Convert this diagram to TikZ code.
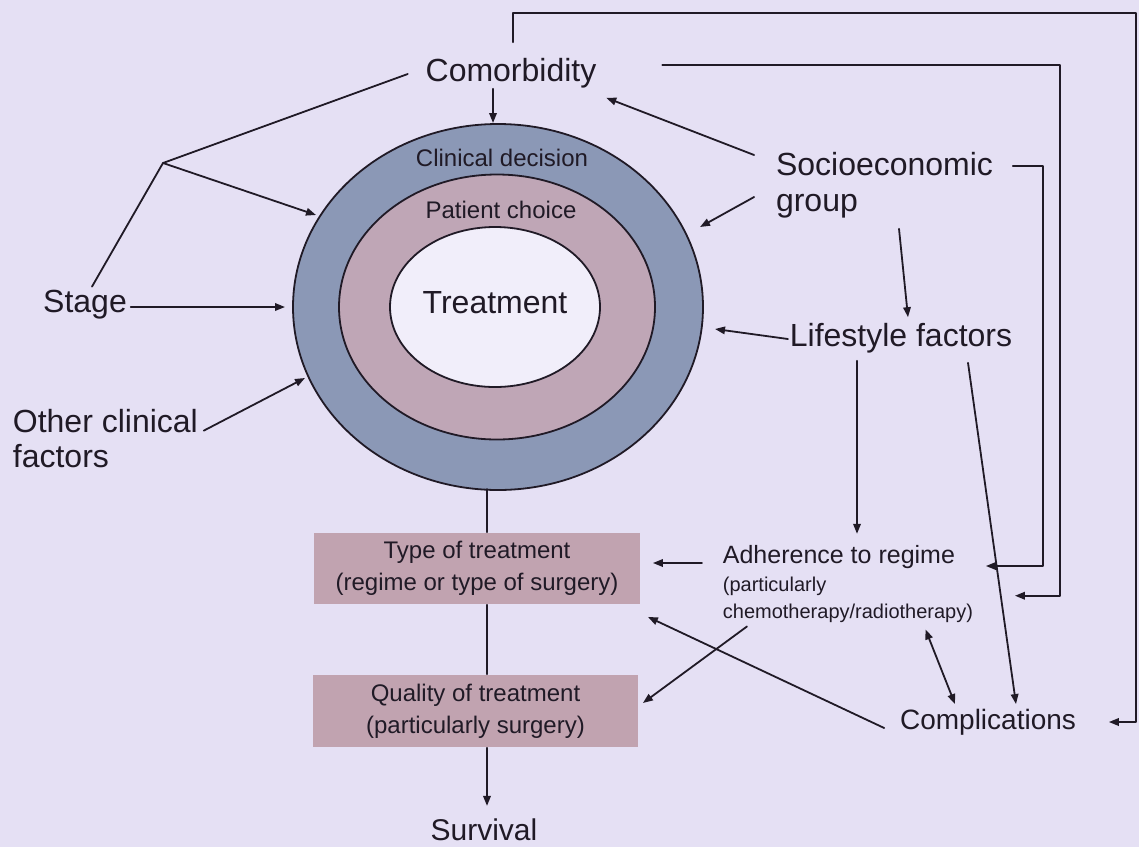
\documentclass[tikz,border=0pt]{standalone}
\usepackage{fontspec}
\setmainfont{Liberation Sans}
\usetikzlibrary{arrows.meta,shapes.geometric}

\definecolor{bglav}{RGB}{229,224,244}
\definecolor{inkc}{RGB}{32,26,38}
\definecolor{ringblue}{RGB}{139,152,182}
\definecolor{ringpink}{RGB}{191,166,182}
\definecolor{ringwhite}{RGB}{241,238,250}
\definecolor{boxc}{RGB}{193,163,176}

\begin{document}
\begin{tikzpicture}[x=1pt, y=-1pt, line width=1.8pt, line cap=round, line join=round,
  arr/.style={draw=inkc, -{Triangle[length=10pt,width=7.5pt]}},
  link/.style={draw=inkc},
  lbl/.style={inner sep=0pt, text=inkc, font=\fontsize{32}{36}\selectfont},
  ring/.style={ellipse, draw=inkc, inner sep=0pt},
  stepbox/.style={rectangle, fill=boxc, inner sep=0pt, minimum width=326pt, minimum height=71pt,
    align=center, text=inkc, font=\fontsize{24}{32}\selectfont}]

  %% ════ background ════
  \fill[bglav] (0,0) rectangle (1139,847);

  %% ════ rings ════
  \node[ring, fill=ringblue, minimum width=410pt, minimum height=366pt] (outer) at (498,307) {};
  \node[ring, fill=ringpink, minimum width=316pt, minimum height=265pt] (middle) at (497,307) {};
  \node[ring, fill=ringwhite, minimum width=210pt, minimum height=160pt] (inner) at (495,307) {};
  \node[lbl, font=\fontsize{24}{28}\selectfont] (clin) at (502,158) {Clinical decision};
  \node[lbl, font=\fontsize{24}{28}\selectfont] (pat) at (501,210) {Patient choice};
  \node[lbl] (treat) at (495,303) {Treatment};

  %% ════ labels ════
  \node[lbl] (comorb) at (511,73) {Comorbidity};
  \node[lbl, align=left] (socio) at (884.5,185) {Socioeconomic\\group};
  \node[lbl] (life) at (901,338) {Lifestyle factors};
  \node[lbl] (stage) at (85,305) {Stage};
  \node[lbl, align=left, anchor=north west, font=\fontsize{32}{35}\selectfont] (other) at (12,408) {Other clinical\\factors};
  \node[lbl, font=\fontsize{28}{34}\selectfont] (complic) at (988,722) {Complications};
  \node[lbl, font=\fontsize{30}{36}\selectfont] (surv) at (484,830) {Survival};
  \node[lbl, anchor=west, font=\fontsize{25}{30}\selectfont] (adh) at (722,557) {Adherence to regime};
  \node[lbl, align=left, anchor=north west, font=\fontsize{20}{27}\selectfont] (adhnote) at (722,576) {(particularly\\chemotherapy/radiotherapy)};

  %% ════ boxes ════
  \node[stepbox] (type) at (477,568.5) {Type of treatment\\(regime or type of surgery)};
  \node[stepbox, minimum width=325pt, minimum height=72pt] (quality) at (475.5,711) {Quality of treatment\\(particularly surgery)};

  %% ════ free ends on the ring ════
  \coordinate (tipC) at (493,123);
  \coordinate (tipS) at (285,307);
  \coordinate (fork) at (163,163);
  \coordinate (tipF) at (316,215);
  \coordinate (tipO) at (305,378);
  \coordinate (tipSR) at (700,227);
  \coordinate (tipLR) at (715,329);

  %% ════ left side ════
  \draw[arr] ([xshift=3pt,yshift=-2pt]stage.east) -- (tipS);
  \draw[link] ([xshift=7pt,yshift=3pt]stage.north) -- (fork) -- ([xshift=-17pt,yshift=-1pt]comorb.west);
  \draw[arr] (fork) -- (tipF);
  \draw[arr] ([xshift=5pt,yshift=7.5pt]other.east) -- (tipO);

  %% ════ top / right side ════
  \draw[arr] (comorb.south -| tipC) -- (tipC);
  \draw[arr] ([xshift=2pt,yshift=15pt]comorb.north) |- (1136,13) |- ([xshift=32pt]complic.east);
  \draw[arr] ([xshift=65pt,yshift=8pt]comorb.east) -- (1060,65) |- ([xshift=41pt,yshift=4pt]adhnote.east);
  \draw[arr] ([xshift=19pt,yshift=-15pt]socio.north east) -- ++(30,0) |- ([xshift=30pt,yshift=-9pt]adh.east);
  \draw[arr] ([xshift=-21pt,yshift=30pt]socio.west) -- ([xshift=9pt,yshift=-9pt]comorb.south east);
  \draw[arr] ([xshift=-21pt,yshift=-12pt]socio.west) -- (tipSR);
  \draw[arr] ([xshift=14.5pt,yshift=-10pt]socio.south) -- ([xshift=7pt,yshift=5pt]life.north);
  \draw[arr] ([xshift=-1pt,yshift=-1pt]life.west) -- (tipLR);
  \draw[arr] ([xshift=-44pt,yshift=-7pt]life.south) -- ++(0,173);
  \draw[arr] ([xshift=67pt,yshift=-9pt]life.south) -- ([xshift=28pt,yshift=4pt]complic.north);

  %% ════ lower part ════
  \draw[arr] ([xshift=-20pt,yshift=-6pt]adh.west) -- ([xshift=12pt,yshift=5.5pt]type.east);
  \draw[arr] ([xshift=25pt,yshift=-3pt]adhnote.south west) -- ([xshift=4pt,yshift=8pt]quality.east);
  \draw[arr] ([xshift=-15pt,yshift=-6pt]complic.west) -- ([xshift=7pt,yshift=-12pt]type.south east);
  \draw[{Triangle[length=10pt,width=7.5pt]}-{Triangle[length=10pt,width=7.5pt]}, draw=inkc]
    ([xshift=77.5pt,yshift=-6pt]adhnote.south) -- ([xshift=-33pt,yshift=4pt]complic.north);
  \draw[link] ([xshift=10pt]type.north) -- ++(0,-43);
  \draw[link] ([xshift=10pt]type.south) -- ([xshift=11.5pt]quality.north);
  \draw[arr] ([xshift=11.5pt]quality.south) -- ++(0,58);

  % fix the canvas to the reference size
  \pgfresetboundingbox
  \path[use as bounding box] (0,0) rectangle (1139,847);
\end{tikzpicture}
\end{document}
